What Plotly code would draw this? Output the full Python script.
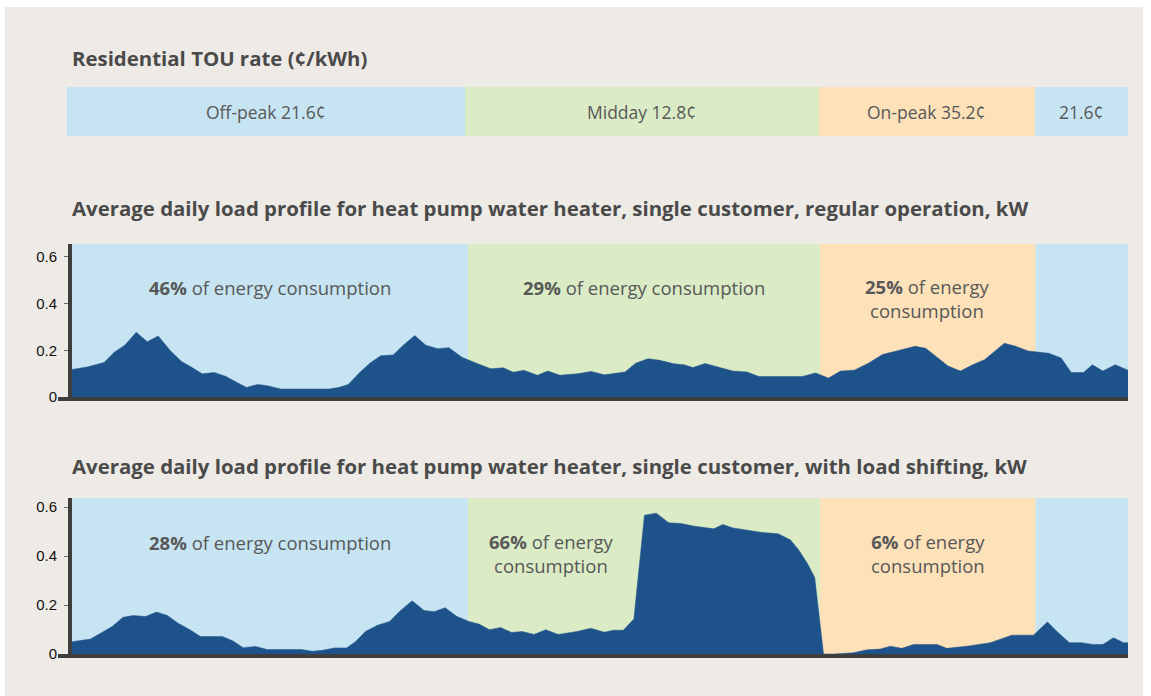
import plotly.graph_objects as go

# ---------------- data ----------------
period_names = ["Off-peak 21.6¢", "Midday 12.8¢", "On-peak 35.2¢", "21.6¢"]
period_start = [0, 9, 17, 21.9]
period_end = [9, 17, 21.9, 24]
period_colors = ["#C6E4F2", "#DAEBC5", "#FDE1B8", "#C6E4F2"]

hours_regular = [0.0, 0.34, 0.73, 0.96, 1.20, 1.46, 1.71, 1.96, 2.24, 2.49,
                 2.71, 2.96, 3.23, 3.50, 3.74, 3.97, 4.22, 4.44, 4.75, 5.85,
                 6.08, 6.28, 6.55, 6.79, 7.02, 7.30, 7.53, 7.79, 8.04, 8.31,
                 8.57, 8.86, 9.21, 9.52, 9.80, 10.03, 10.27, 10.58, 10.81, 11.09,
                 11.48, 11.80, 12.10, 12.57, 12.81, 13.09, 13.36, 13.68, 13.91, 14.11,
                 14.39, 14.70, 15.02, 15.34, 15.61, 16.60, 16.90, 17.19, 17.47, 17.78,
                 18.10, 18.42, 18.73, 19.16, 19.40, 19.68, 19.91, 20.19, 20.47, 20.74,
                 20.94, 21.19, 21.45, 21.73, 22.20, 22.48, 22.71, 22.99, 23.19, 23.43,
                 23.71, 23.94, 24.0]
kw_regular = [0.118, 0.128, 0.148, 0.192, 0.222, 0.277, 0.237, 0.261, 0.197, 0.152,
              0.128, 0.099, 0.105, 0.088, 0.063, 0.041, 0.054, 0.048, 0.034, 0.034,
              0.042, 0.054, 0.107, 0.148, 0.177, 0.180, 0.222, 0.263, 0.222, 0.207,
              0.211, 0.170, 0.143, 0.121, 0.125, 0.106, 0.114, 0.093, 0.111, 0.093,
              0.099, 0.109, 0.095, 0.107, 0.145, 0.164, 0.157, 0.142, 0.138, 0.126,
              0.143, 0.126, 0.111, 0.107, 0.088, 0.088, 0.103, 0.081, 0.111, 0.115,
              0.145, 0.182, 0.197, 0.217, 0.209, 0.167, 0.133, 0.111, 0.138, 0.160,
              0.190, 0.230, 0.217, 0.197, 0.187, 0.167, 0.105, 0.105, 0.138, 0.111,
              0.138, 0.118, 0.115]

hours_shift = [0.0, 0.42, 0.69, 0.92, 1.16, 1.39, 1.67, 1.92, 2.17, 2.41,
               2.68, 2.92, 3.42, 3.66, 3.89, 4.17, 4.44, 5.22, 5.46, 5.69,
               5.97, 6.24, 6.44, 6.67, 6.94, 7.22, 7.45, 7.73, 8.00, 8.23,
               8.48, 8.74, 9.02, 9.25, 9.49, 9.74, 9.99, 10.23, 10.50, 10.77,
               11.05, 11.48, 11.79, 12.10, 12.30, 12.53, 12.77, 13.01, 13.28, 13.56,
               13.84, 14.15, 14.59, 14.79, 15.02, 15.30, 15.65, 16.05, 16.33, 16.52,
               16.72, 16.88, 17.08, 17.31, 17.76, 18.07, 18.37, 18.60, 18.86, 19.13,
               19.66, 19.88, 20.34, 20.87, 21.09, 21.36, 21.85, 22.17, 22.42, 22.67,
               22.95, 23.21, 23.43, 23.67, 23.90, 24.0]
kw_shift = [0.050, 0.061, 0.089, 0.113, 0.150, 0.157, 0.153, 0.171, 0.157, 0.126,
            0.099, 0.071, 0.071, 0.053, 0.026, 0.031, 0.018, 0.018, 0.011, 0.015,
            0.025, 0.025, 0.050, 0.092, 0.117, 0.133, 0.175, 0.217, 0.178, 0.173,
            0.189, 0.154, 0.133, 0.122, 0.099, 0.108, 0.088, 0.092, 0.080, 0.099,
            0.080, 0.092, 0.105, 0.089, 0.097, 0.097, 0.143, 0.567, 0.575, 0.536,
            0.533, 0.522, 0.511, 0.529, 0.515, 0.508, 0.497, 0.491, 0.466, 0.424,
            0.368, 0.312, 0.0, 0.0, 0.005, 0.017, 0.020, 0.032, 0.023, 0.039,
            0.039, 0.023, 0.032, 0.046, 0.060, 0.077, 0.077, 0.131, 0.086, 0.046,
            0.046, 0.039, 0.039, 0.066, 0.046, 0.046]

tick_vals = [0, 0.2, 0.4, 0.6]
tick_text = ["0", "0.2", "0.4", "0.6"]

share_regular = ["<b>46%</b> of energy consumption",
                 "<b>29%</b> of energy consumption",
                 "<b>25%</b> of energy<br>consumption"]
share_regular_x = [4.5, 13, 19.45]
share_shift = ["<b>28%</b> of energy consumption",
               "<b>66%</b> of energy<br>consumption",
               "<b>6%</b> of energy<br>consumption"]
share_shift_x = [4.5, 10.9, 19.45]

titles = ["Residential TOU rate (¢/kWh)",
          "Average daily load profile for heat pump water heater, single customer, regular operation, kW",
          "Average daily load profile for heat pump water heater, single customer, with load shifting, kW"]

# ---------------- layout constants ----------------
W, H = 1151, 696          # reference picture size (positions below are in its pixels)
FIG_H = 704               # page height the capture squeezes into 696 rows
BG = "#EEEAE6"
AREA = "#1E528A"
AXIS = "#3E3E3E"
TXT = "#585858"
TITLE_C = "#4A4A4A"
FONT = "Open Sans"

def px(xp):
    return xp / W

def py(yp):
    return 1 - yp / H

fig = go.Figure()

fig.add_trace(go.Scatter(x=hours_regular, y=kw_regular, mode="lines", fill="tozeroy",
                         line=dict(color=AREA, width=0.5), fillcolor=AREA,
                         xaxis="x", yaxis="y", hoverinfo="skip", showlegend=False))
fig.add_trace(go.Scatter(x=hours_shift, y=kw_shift, mode="lines", fill="tozeroy",
                         line=dict(color=AREA, width=0.5), fillcolor=AREA,
                         xaxis="x2", yaxis="y2", hoverinfo="skip", showlegend=False))

# TOU rate bar
fig.add_trace(go.Bar(y=[0] * len(period_start),
                     x=[e - s for s, e in zip(period_start, period_end)],
                     base=period_start, orientation="h", width=1,
                     marker=dict(color=period_colors, line=dict(width=0)),
                     xaxis="x3", yaxis="y3", hoverinfo="skip", showlegend=False))

shapes = [dict(type="rect", xref="paper", yref="paper", x0=px(5), x1=px(1143),
               y0=0, y1=py(7), fillcolor=BG, line=dict(width=0), layer="below")]
for xa, ya in (("x", "y"), ("x2", "y2")):
    for s, e, c in zip(period_start, period_end, period_colors):
        shapes.append(dict(type="rect", xref=xa, yref=ya + " domain", x0=s, x1=e,
                           y0=0, y1=1, fillcolor=c, line=dict(width=0), layer="below"))

# extension of the baseline to the left of the y axis
for ybot in (397, 654):
    shapes.append(dict(type="line", xref="paper", yref="paper",
                       x0=px(58), x1=px(72), y0=py(ybot + 2), y1=py(ybot + 2),
                       line=dict(color=AXIS, width=4)))

annotations = []
for t, yp in zip(titles, (58, 208, 466)):
    annotations.append(dict(text=t, xref="paper", yref="paper", x=px(70), y=py(yp),
                            xanchor="left", yanchor="middle", showarrow=False,
                            font=dict(family=FONT, size=20.4, color=TITLE_C, weight="bold")))

for s, e, n in zip(period_start, period_end, period_names):
    annotations.append(dict(text=n, xref="x3", yref="y3", x=(s + e) / 2, y=0,
                            showarrow=False,
                            font=dict(family=FONT, size=17.5, color=TXT)))

for t, xv in zip(share_regular, share_regular_x):
    two = "<br>" in t
    annotations.append(dict(text=t, xref="x", yref="y", x=xv, y=0.42 if two else 0.47,
                            showarrow=False,
                            font=dict(family=FONT, size=18.5, color=TXT)))
for t, xv in zip(share_shift, share_shift_x):
    two = "<br>" in t
    annotations.append(dict(text=t, xref="x2", yref="y2", x=xv, y=0.41 if two else 0.457,
                            showarrow=False,
                            font=dict(family=FONT, size=18.5, color=TXT)))

xcommon = dict(range=[0, 24], showgrid=False, zeroline=False, showticklabels=False,
               ticks="", showline=True, linecolor=AXIS, linewidth=4, fixedrange=True)
ycommon = dict(showgrid=False, zeroline=False, showline=True, linecolor=AXIS, linewidth=4,
               ticks="outside", ticklen=4, tickwidth=1, tickcolor="#666666",
               tickvals=tick_vals, ticktext=tick_text, ticklabelstandoff=4,
               tickfont=dict(family="Liberation Sans", size=15, color="#111111"),
               fixedrange=True)

fig.update_layout(
    width=W, height=FIG_H, margin=dict(l=0, r=0, t=0, b=0),
    paper_bgcolor="#FFFFFF", plot_bgcolor="rgba(0,0,0,0)",
    xaxis=dict(domain=[px(72), px(1128)], anchor="y", **xcommon),
    yaxis=dict(domain=[py(397), py(244)], anchor="x", range=[0, 0.655], **ycommon),
    xaxis2=dict(domain=[px(72), px(1128)], anchor="y2", **xcommon),
    yaxis2=dict(domain=[py(654), py(498)], anchor="x2", range=[0, 0.637], **ycommon),
    xaxis3=dict(domain=[px(67), px(1128)], anchor="y3", range=[0, 24], visible=False,
                fixedrange=True),
    yaxis3=dict(domain=[py(136), py(87)], anchor="x3", range=[-0.5, 0.5], visible=False,
                fixedrange=True),
    barmode="overlay", bargap=0,
    shapes=shapes, annotations=annotations,
)

fig.write_html(
    "out.html", config={"displayModeBar": False},
    post_script=("document.body.style.margin='0px';"
                 "document.body.style.overflow='hidden';"
                 "document.documentElement.style.background='linear-gradient(to right,#fff 5px,#EEEAE6 5px,#EEEAE6 1143px,#fff 1143px)';"
                 "document.body.style.background='transparent';"))
